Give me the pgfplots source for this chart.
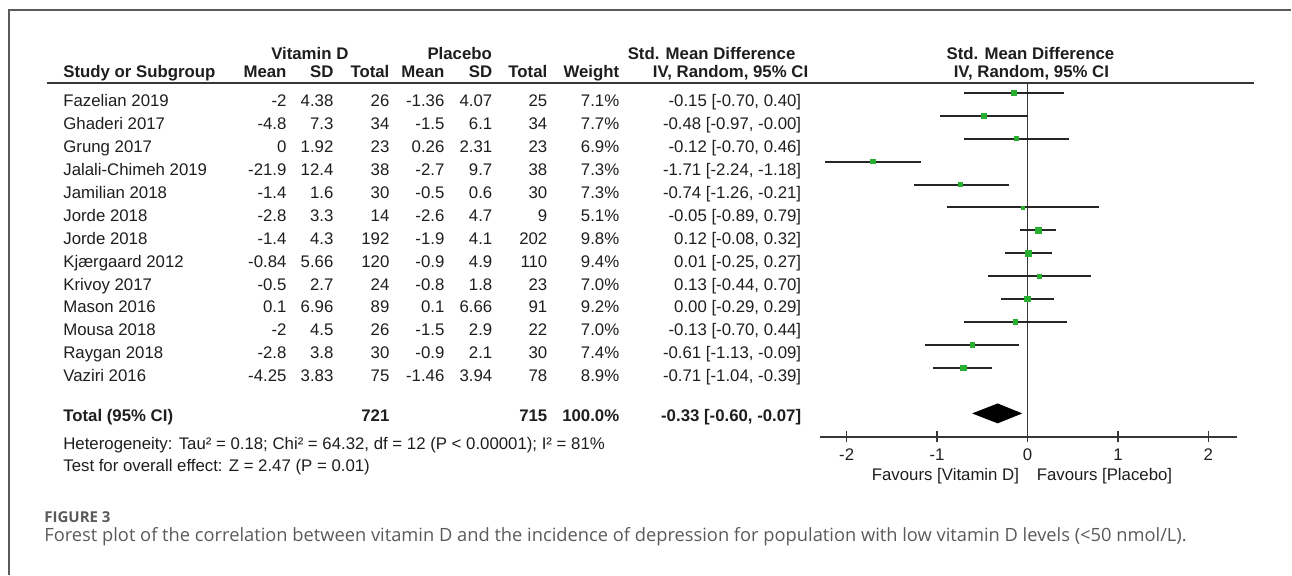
\documentclass[border=0pt]{standalone}
\usepackage{pgfplots}
\pgfplotsset{compat=1.18}
\usepackage{pgfplotstable}
\usepackage{fontspec}
\setmainfont{Liberation Sans}
\newfontfamily\capfont{Open Sans}
\definecolor{txt}{RGB}{30,30,30}
\definecolor{rulec}{RGB}{55,55,55}
\definecolor{framec}{RGB}{90,90,90}
\definecolor{sq}{RGB}{40,175,50}
\definecolor{capgray}{RGB}{90,90,90}
\newcommand\tf{\fontsize{8.4pt}{10pt}\selectfont}

% y = -(row number); smd with 95% CI and weight (%)
\pgfplotstableread{
y smd lo hi w
-1 -0.15 -0.70 0.40 7.1
-2 -0.48 -0.97 -0.00 7.7
-3 -0.12 -0.70 0.46 6.9
-4 -1.71 -2.24 -1.18 7.3
-5 -0.74 -1.26 -0.21 7.3
-6 -0.05 -0.89 0.79 5.1
-7 0.12 -0.08 0.32 9.8
-8 0.01 -0.25 0.27 9.4
-9 0.13 -0.44 0.70 7.0
-10 0.00 -0.29 0.29 9.2
-11 -0.13 -0.70 0.44 7.0
-12 -0.61 -1.13 -0.09 7.4
-13 -0.71 -1.04 -0.39 8.9
}\studies

% confidence intervals as segments
\pgfplotstableread{
x y
-0.70 -1
0.40 -1
nan nan
-0.97 -2
-0.00 -2
nan nan
-0.70 -3
0.46 -3
nan nan
-2.24 -4
-1.18 -4
nan nan
-1.26 -5
-0.21 -5
nan nan
-0.89 -6
0.79 -6
nan nan
-0.08 -7
0.32 -7
nan nan
-0.25 -8
0.27 -8
nan nan
-0.44 -9
0.70 -9
nan nan
-0.29 -10
0.29 -10
nan nan
-0.70 -11
0.44 -11
nan nan
-1.13 -12
-0.09 -12
nan nan
-1.04 -13
-0.39 -13
}\cis

\begin{document}
\begin{tikzpicture}
% page in pixel units of the reference (1 px = 0.5pt, y downwards)
\begin{scope}[x=0.5pt, y=-0.5pt]
\useasboundingbox (0,0) rectangle (1292,575);
\end{scope}

\begin{axis}[
  at={(410pt,-218.5pt)}, anchor=south west,
  scale only axis, width=209pt, height=177pt,
  xmin=-2.30, xmax=2.32, ymin=-16.02, ymax=-0.56,
  axis x line*=bottom, axis y line=none,
  axis line style={rulec, line width=0.8pt},
  xtick={-2,-1,0,1,2}, xticklabels={-2,-1,0,1,2},
  xtick align=center, major tick length=5.5pt,
  tick style={rulec, line width=0.8pt},
  xticklabel style={font=\tf, text=txt, anchor=base, yshift=-9pt},
  unbounded coords=jump,
  clip=false]
\addplot[rulec, line width=0.8pt] coordinates {(0,-0.56) (0,-16.02)};
\addplot[black!85, line width=1pt] table[x=x, y=y] {\cis};
\addplot[scatter, only marks, mark=square*,
  scatter/use mapped color={draw=sq, fill=sq},
  visualization depends on={\thisrow{w} \as \wt},
  scatter/@pre marker code/.append style={/tikz/mark size=0.15*\wt}]
  table[x=smd, y=y] {\studies};
\addplot[fill=black, draw=black] coordinates {
  (-0.60,-15) (-0.33,-14.585) (-0.07,-15) (-0.33,-15.415)} -- cycle;
\end{axis}

\begin{scope}[x=0.5pt, y=-0.5pt, every node/.style={inner sep=0pt, font=\tf, text=txt}]
\draw[framec, line width=0.75pt] (9,575) -- (9,10) -- (1292,10);
\draw[rulec, line width=1pt] (47,83) -- (1255,83);

\begin{scope}[every node/.append style={font=\tf\bfseries}]
\node[anchor=base] at (310,60) {Vitamin D};
\node[anchor=base] at (460,60) {Placebo};
\node[anchor=base] at (712,60) {Std. Mean Difference};
\node[anchor=base] at (1031,60) {Std. Mean Difference};
\node[anchor=base west] at (63,78) {Study or Subgroup};
\node[anchor=base east] at (287,78) {Mean};
\node[anchor=base east] at (334,78) {SD};
\node[anchor=base east] at (390,78) {Total};
\node[anchor=base east] at (445,78) {Mean};
\node[anchor=base east] at (493,78) {SD};
\node[anchor=base east] at (548,78) {Total};
\node[anchor=base east] at (620,78) {Weight};
\node[anchor=base] at (731,78) {IV, Random, 95\% CI};
\node[anchor=base] at (1032,78) {IV, Random, 95\% CI};
\node[anchor=base west] at (63,422) {Total (95\% CI)};
\node[anchor=base east] at (390,422) {721};
\node[anchor=base east] at (548,422) {715};
\node[anchor=base east] at (620,422) {100.0\%};
\node[anchor=base east] at (802,422) {-0.33 [-0.60, -0.07]};
\end{scope}

\foreach \k/\name/\ma/\sa/\na/\mb/\sb/\nb/\w/\ci in {
1/Fazelian 2019/-2/4.38/26/-1.36/4.07/25/7.1/{-0.15 [-0.70, 0.40]},
2/Ghaderi 2017/-4.8/7.3/34/-1.5/6.1/34/7.7/{-0.48 [-0.97, -0.00]},
3/Grung 2017/0/1.92/23/0.26/2.31/23/6.9/{-0.12 [-0.70, 0.46]},
4/Jalali-Chimeh 2019/-21.9/12.4/38/-2.7/9.7/38/7.3/{-1.71 [-2.24, -1.18]},
5/Jamilian 2018/-1.4/1.6/30/-0.5/0.6/30/7.3/{-0.74 [-1.26, -0.21]},
6/Jorde 2018/-2.8/3.3/14/-2.6/4.7/9/5.1/{-0.05 [-0.89, 0.79]},
7/Jorde 2018/-1.4/4.3/192/-1.9/4.1/202/9.8/{0.12 [-0.08, 0.32]},
8/Kjærgaard 2012/-0.84/5.66/120/-0.9/4.9/110/9.4/{0.01 [-0.25, 0.27]},
9/Krivoy 2017/-0.5/2.7/24/-0.8/1.8/23/7.0/{0.13 [-0.44, 0.70]},
10/Mason 2016/0.1/6.96/89/0.1/6.66/91/9.2/{0.00 [-0.29, 0.29]},
11/Mousa 2018/-2/4.5/26/-1.5/2.9/22/7.0/{-0.13 [-0.70, 0.44]},
12/Raygan 2018/-2.8/3.8/30/-0.9/2.1/30/7.4/{-0.61 [-1.13, -0.09]},
13/Vaziri 2016/-4.25/3.83/75/-1.46/3.94/78/8.9/{-0.71 [-1.04, -0.39]}}
{
  \pgfmathsetmacro\yb{107+22.9*(\k-1)}
  \node[anchor=base west] at (63,\yb) {\name};
  \node[anchor=base east] at (287,\yb) {\ma};
  \node[anchor=base east] at (334,\yb) {\sa};
  \node[anchor=base east] at (390,\yb) {\na};
  \node[anchor=base east] at (445,\yb) {\mb};
  \node[anchor=base east] at (493,\yb) {\sb};
  \node[anchor=base east] at (548,\yb) {\nb};
  \node[anchor=base east] at (620,\yb) {\w\%};
  \node[anchor=base east] at (802,\yb) {\ci};
}

\node[anchor=base west] at (63,450) {Heterogeneity: Tau² = 0.18; Chi² = 64.32, df = 12 (P < 0.00001); I² = 81\%};
\node[anchor=base west] at (63,472) {Test for overall effect: Z = 2.47 (P = 0.01)};

\node[anchor=base east] at (1020,481) {Favours [Vitamin D]};
\node[anchor=base west] at (1037,481) {Favours [Placebo]};

\node[anchor=base west, font=\capfont\fontsize{7.5pt}{9pt}\selectfont\bfseries, text=capgray] at (44,523) {FIGURE 3};
\node[anchor=base west, font=\capfont\fontsize{9.15pt}{10pt}\selectfont, text=capgray] at (44,542) {Forest plot of the correlation between vitamin D and the incidence of depression for population with low vitamin D levels (<50 nmol/L).};
\end{scope}
\end{tikzpicture}
\end{document}
